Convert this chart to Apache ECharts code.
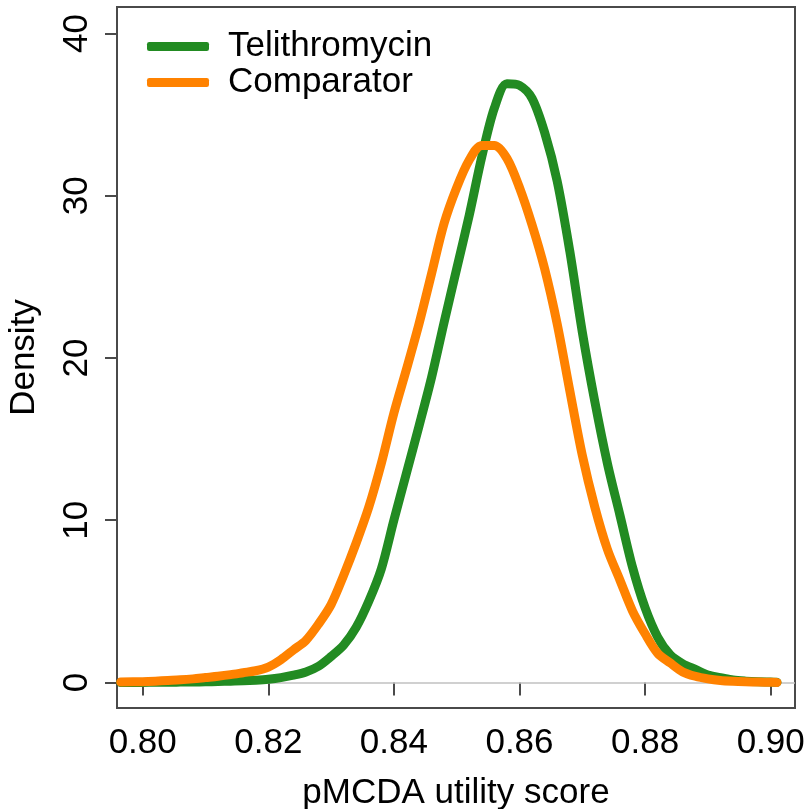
<!DOCTYPE html>
<html>
<head>
<meta charset="utf-8">
<script src="https://cdn.jsdelivr.net/npm/echarts@6/dist/echarts.min.js"></script>
<style>html,body{margin:0;padding:0;background:#fff;}#chart{width:805px;height:809px;}</style>
</head>
<body>
<div id="chart"></div>
<script>
var xValues = [0.7965,0.800,0.802,0.804,0.806,0.808,0.810,0.812,0.814,0.816,0.818,0.820,0.822,0.824,0.826,0.828,0.830,0.832,0.834,0.836,0.838,0.840,0.842,0.844,0.846,0.848,0.850,0.852,0.854,0.856,0.858,0.860,0.862,0.864,0.866,0.868,0.870,0.872,0.874,0.876,0.878,0.880,0.882,0.884,0.886,0.888,0.890,0.892,0.894,0.896,0.898,0.900,0.901];
var telithromycin = [0,0,0.01,0.01,0.02,0.03,0.04,0.06,0.08,0.1,0.14,0.2,0.3,0.45,0.65,1.0,1.6,2.3,3.4,5.0,7.0,10.0,12.9,15.8,18.8,22.2,25.5,28.8,32.4,35.4,36.9,36.8,36.0,33.9,30.9,26.6,21.6,17.3,13.5,10.3,7.1,4.6,2.8,1.7,1.15,0.8,0.45,0.3,0.15,0.08,0.04,0.02,0.01];
var comparator = [0.02,0.05,0.08,0.12,0.16,0.22,0.3,0.38,0.48,0.6,0.72,0.95,1.4,2.0,2.6,3.6,4.8,6.6,8.6,10.8,13.5,16.6,19.3,22.1,25.2,28.3,30.5,32.2,33.1,33.1,32.3,30.5,28.2,25.5,22.1,18.0,14.0,10.8,8.2,6.3,4.4,3.0,1.8,1.2,0.65,0.38,0.22,0.12,0.07,0.04,0.02,0.01,0.0];
var xTicks = [0.80,0.82,0.84,0.86,0.88,0.90];
var yTicks = [0,10,20,30,40];
var seriesNames = ['Telithromycin','Comparator'];

function pairs(ys){ return xValues.map(function(x,i){ return [x, ys[i]]; }); }

var FONT = 'Liberation Sans, Arial, sans-serif';
var chart = echarts.init(document.getElementById('chart'), null, {renderer:'canvas'});
chart.setOption({
  animation:false,
  backgroundColor:'#fff',
  grid:{left:117, top:7, right:10, bottom:101, show:true, borderColor:'#4a4a4a', borderWidth:2, backgroundColor:'transparent', outerBoundsMode:'none', containLabel:false},
  legend:{
    orient:'vertical', left:142, top:24, itemWidth:62, itemHeight:9, itemGap:1,
    icon:'roundRect',
    textStyle:{fontFamily:FONT, fontSize:35, color:'#000', padding:[0,0,0,14]},
    data:seriesNames
  },
  xAxis:{
    type:'value', min:0.79591, max:0.90387,
    axisLine:{show:false},
    splitLine:{show:false},
    axisTick:{show:true, length:13, lineStyle:{color:'#4a4a4a', width:2}, customValues:xTicks},
    axisLabel:{fontFamily:FONT, fontSize:35, color:'#000', margin:18, customValues:xTicks,
      formatter:function(v){return v.toFixed(2);}},
    name:'pMCDA utility score', nameLocation:'middle', nameGap:68,
    nameTextStyle:{fontFamily:FONT, fontSize:35, color:'#000'}
  },
  yAxis:{
    type:'value', min:-1.575, max:41.63,
    axisLine:{show:false},
    splitLine:{show:false},
    axisTick:{show:true, length:12, lineStyle:{color:'#4a4a4a', width:2}, customValues:yTicks},
    axisLabel:{fontFamily:FONT, fontSize:35, color:'#000', margin:22, rotate:90, customValues:yTicks},
    name:'Density', nameLocation:'middle', nameGap:75, nameRotate:90,
    nameTextStyle:{fontFamily:FONT, fontSize:35, color:'#000'}
  },
  series:[
    {name:seriesNames[0], type:'line', data:pairs(telithromycin), showSymbol:false, smooth:0.3,
     color:'#228B22', lineStyle:{width:9, color:'#228B22', cap:'round', join:'round'},
     markLine:{silent:true, symbol:'none', label:{show:false}, lineStyle:{color:'#c0c0c0', width:1.5, type:'solid'}, data:[{yAxis:0}], z:1}, z:2},
    {name:seriesNames[1], type:'line', data:pairs(comparator), showSymbol:false, smooth:0.3,
     color:'#FF8200', lineStyle:{width:9, color:'#FF8200', cap:'round', join:'round'}, z:3}
  ]
});
</script>
</body>
</html>
